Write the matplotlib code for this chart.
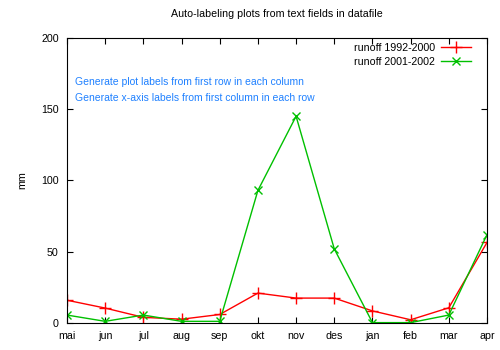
import matplotlib
matplotlib.use('Agg')
import matplotlib.pyplot as plt

plt.rcParams['font.family'] = ['Liberation Sans', 'DejaVu Sans']

# Data
months = ['mai', 'jun', 'jul', 'aug', 'sep', 'okt', 'nov', 'des', 'jan', 'feb', 'mar', 'apr']
runoff_1992_2000 = [16, 10.5, 4, 2.7, 6, 21, 17.5, 17.5, 8.5, 2.3, 10.7, 56.5]
runoff_2001_2002 = [5.6, 1.2, 5.6, 1.2, 1.2, 93, 145, 52, 0.3, 0.3, 5.6, 62]

fig = plt.figure(figsize=(5, 3.5), dpi=100)
ax = fig.add_axes([0.134, 0.077, 0.84, 0.815])

x = range(len(months))
ax.plot(x, runoff_1992_2000, color='#ff0000', marker='+', markersize=8, lw=1,
        mew=1, label='runoff 1992-2000')
ax.plot(x, runoff_2001_2002, color='#00c000', marker='x', markersize=6, lw=1,
        mew=1, label='runoff 2001-2002')

ax.set_xlim(0, len(months) - 1)
ax.set_ylim(0, 200)
ax.set_xticks(list(x))
ax.set_xticklabels(months)
ax.set_yticks([0, 50, 100, 150, 200])
ax.tick_params(direction='in', top=True, right=True, labelsize=7.7, length=4, pad=6)
ax.set_ylabel('mm', fontsize=7.7, labelpad=10)
ax.set_title('Auto-labeling plots from text fields in datafile', fontsize=7.7, pad=15)

ax.text(0.02, 0.845, 'Generate plot labels from first row in each column',
        transform=ax.transAxes, color='#1e80ff', fontsize=7.5, va='center')
ax.text(0.02, 0.79, 'Generate x-axis labels from first column in each row',
        transform=ax.transAxes, color='#1e80ff', fontsize=7.5, va='center')

leg = ax.legend(loc='upper right', bbox_to_anchor=(0.975, 1.0), frameon=False,
                fontsize=7.7, markerfirst=False, handlelength=2.8, handletextpad=0.6,
                borderaxespad=0.1, labelspacing=0.35)

fig.savefig('out.png', dpi=100)
